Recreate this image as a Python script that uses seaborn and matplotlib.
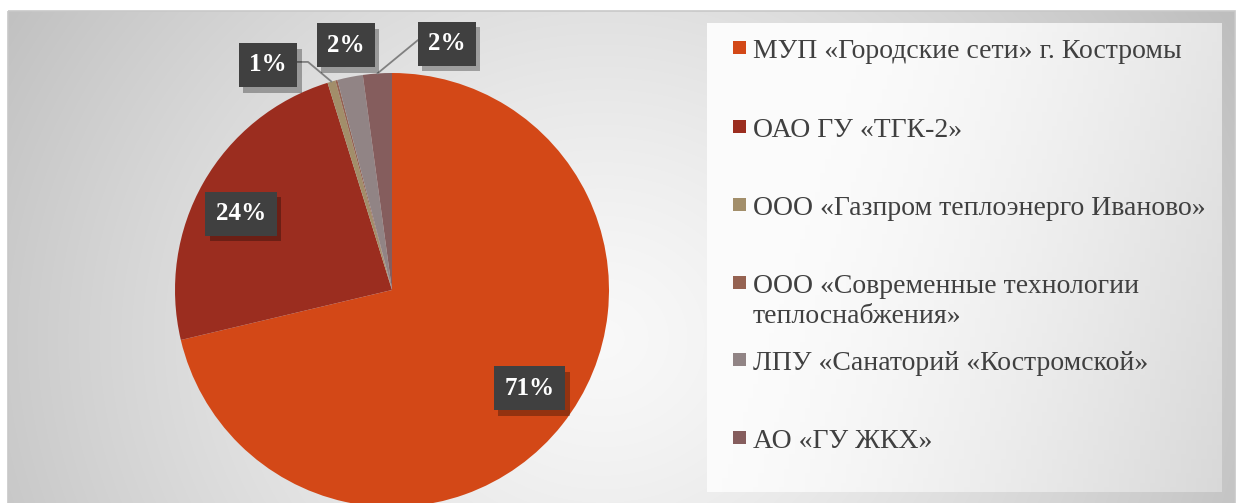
import numpy as np
import seaborn as sns
import matplotlib.pyplot as plt
from matplotlib.patches import Rectangle
from matplotlib import patheffects

## DATA
companies = [
    "МУП «Городские сети» г. Костромы",
    "ОАО ГУ «ТГК-2»",
    "ООО «Газпром теплоэнерго Иваново»",
    "ООО «Современные технологии\nтеплоснабжения»",
    "ЛПУ «Санаторий «Костромской»",
    "АО «ГУ ЖКХ»",
]
shares = [71.3, 23.9, 0.6, 0.15, 1.9, 2.15]
colors = ["#d34817", "#9b2d1f", "#a28e6a", "#956251", "#918485", "#855d5d"]

## STYLE
sns.set_theme(style="white")
plt.rcParams["font.family"] = ["Liberation Serif", "DejaVu Serif"]

W, H = 1239, 503
fig = plt.figure(figsize=(W / 100, H / 100), dpi=100)

# background axes in pixel coords (y down)
bg = fig.add_axes([0, 0, 1, 1], zorder=-1)
bg.set_xlim(0, W)
bg.set_ylim(H, 0)
bg.axis("off")

# radial gradient of the chart area
yy, xx = np.mgrid[0:H, 0:W]
d = np.sqrt((xx - 600.0) ** 2 + ((yy - 330.0) * 1.1) ** 2) / 680.0
grad = np.clip(0.975 - 0.21 * d ** 1.3, 0, 1)
bg.imshow(np.dstack([grad, grad, grad]), extent=(8, 1235, 510, 11), aspect="auto", zorder=0)
bg.add_patch(Rectangle((8, 11), 1227, 499, fill=False, ec="#c8c8c8", lw=1.2, zorder=1))

# legend panel gradient
py, px = np.mgrid[0:100, 0:100]
pg = 0.985 - 0.17 * np.clip((px / 99.0) * 0.85 + (py / 99.0) * 0.25 - 0.25, 0, 1) ** 1.4
bg.imshow(np.dstack([pg, pg, pg]), extent=(707, 1222, 492, 23), aspect="auto", zorder=2)

## PIE
ax = fig.add_axes([175 / W, (H - 507) / H, 434 / W, 434 / H])
wedges, _ = ax.pie(shares, colors=colors, startangle=90, counterclock=False,
                   radius=1, wedgeprops=dict(linewidth=0))
ax.set_xlim(-1, 1)
ax.set_ylim(-1, 1)
ax.axis("off")

box = dict(boxstyle="square,pad=0.42", fc="#404040", ec="none")
shadow = [patheffects.SimplePatchShadow(offset=(3, -4), shadow_rgbFace="black", alpha=0.3),
          patheffects.Normal()]

# outside label positions / leader starts for the small slices
outside = {2: ((-0.571, 1.037), (-0.438, 1.051), (-0.387, 1.051)),
           4: ((-0.212, 1.129), None, None),
           5: ((0.253, 1.134), (0.12, 1.152), (0.12, 1.152))}

for i, (w, v) in enumerate(zip(wedges, shares)):
    pct = round(v)
    if pct == 0:
        continue
    mid = np.deg2rad((w.theta1 + w.theta2) / 2)
    if i in outside:
        (lx, ly), p0, p1 = outside[i]
        if p0 is not None:
            ax.plot([p0[0], p1[0], np.cos(mid)], [p0[1], p1[1], np.sin(mid)],
                    color="#808080", lw=1.3, clip_on=False, zorder=3)
    else:
        lx, ly = 0.78 * np.cos(mid + 0.05), 0.78 * np.sin(mid + 0.05)
    t = ax.text(lx, ly, f"{pct}%", ha="center", va="center", fontsize=18,
                fontweight="bold", color="white", bbox=box, clip_on=False, zorder=5)
    t.get_bbox_patch().set_path_effects(shadow)

## LEGEND
baselines = [58, 137, 215, 293, 370, 448]
for name, col, base in zip(companies, colors, baselines):
    bg.add_patch(Rectangle((733, base - 17), 13, 13, fc=col, ec="none", zorder=3))
    for j, line in enumerate(name.split("\n")):
        bg.text(753, base + 30 * j, line, ha="left", va="baseline",
                fontsize=20, color="#404040", zorder=4)

fig.savefig("out.png", dpi=100)
